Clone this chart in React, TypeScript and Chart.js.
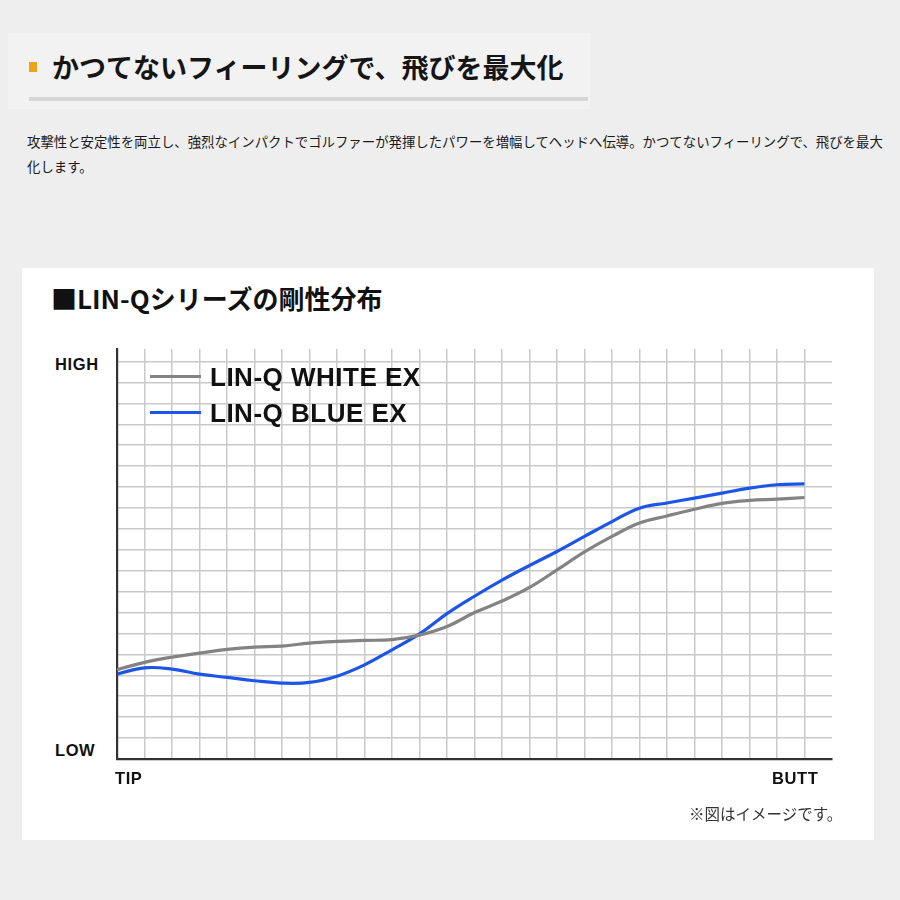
import React, { useEffect, useRef } from "react";
import { Chart, registerables } from "chart.js";

Chart.register(...registerables);

// Shaft positions from TIP (0) to BUTT (25)
const positions = [0, 1, 2, 3, 4, 5, 6, 7, 8, 9, 10, 11, 12, 13, 14, 15, 16, 17, 18, 19, 20, 21, 22, 23, 24, 25];
// Stiffness (relative units, 0 = LOW)
const whiteEx = [4.27, 4.62, 4.87, 5.06, 5.24, 5.35, 5.4, 5.54, 5.62, 5.67, 5.71, 5.92, 6.33, 7.0, 7.55, 8.2, 9.04, 9.9, 10.64, 11.28, 11.62, 11.94, 12.22, 12.36, 12.42, 12.5];
const blueEx = [4.06, 4.36, 4.3, 4.06, 3.9, 3.74, 3.63, 3.66, 3.96, 4.5, 5.22, 5.98, 6.95, 7.78, 8.55, 9.25, 9.92, 10.64, 11.35, 11.99, 12.24, 12.47, 12.71, 12.95, 13.11, 13.15];
const yGrid = [0, 1, 2, 3, 4, 5, 6, 7, 8, 9, 10, 11, 12, 13, 14, 15, 16, 17, 18, 19];
const seriesNames = ["LIN-Q WHITE EX", "LIN-Q BLUE EX"];
const seriesColors = ["#838383", "#1d55e6"];
const yLabels = ["HIGH", "LOW"];
const xLabels = ["TIP", "BUTT"];

const jp = '"Noto Sans CJK JP", "Noto Sans", sans-serif';
const latin = '"Liberation Sans", Arial, "Noto Sans CJK JP", sans-serif';

function abs(left: number, top: number, extra: React.CSSProperties = {}): React.CSSProperties {
  return { position: "absolute", left, top, margin: 0, whiteSpace: "nowrap", ...extra };
}

export default function App() {
  const ref = useRef<HTMLCanvasElement | null>(null);

  useEffect(() => {
    if (!ref.current) return;
    const gridColor = (c: any) => (c.tick && c.tick.value === 0 ? "rgba(0,0,0,0)" : "#c9c9c9");
    const chart = new Chart(ref.current, {
      type: "line",
      data: {
        datasets: [whiteEx, blueEx].map((vals, i) => ({
          label: seriesNames[i],
          data: positions.map((p, j) => ({ x: p, y: vals[j] })),
          borderColor: seriesColors[i],
          backgroundColor: seriesColors[i],
          borderWidth: 3.2,
          pointRadius: 0,
          tension: 0.4,
          fill: false,
        })),
      },
      options: {
        animation: false,
        responsive: false,
        events: [],
        layout: { padding: { left: 17, right: 18, top: 19, bottom: 21 } },
        plugins: { legend: { display: false }, tooltip: { enabled: false } },
        scales: {
          x: {
            type: "linear",
            min: 0,
            max: 26,
            afterBuildTicks: (s: any) => {
              s.ticks = positions.map((v) => ({ value: v }));
            },
            afterFit: (s: any) => {
              s.height = 0;
            },
            ticks: { display: false },
            grid: { color: gridColor, lineWidth: 1.5, drawTicks: false },
            border: { display: true, color: "#333333", width: 2.2 },
          },
          y: {
            type: "linear",
            min: 0,
            max: 19.6,
            afterBuildTicks: (s: any) => {
              s.ticks = yGrid.map((v) => ({ value: v }));
            },
            afterFit: (s: any) => {
              s.width = 0;
            },
            ticks: { display: false },
            grid: { color: gridColor, lineWidth: 1.5, drawTicks: false },
            border: { display: true, color: "#333333", width: 2.2 },
          },
        },
      },
    });
    return () => chart.destroy();
  }, []);

  return (
    <div style={{ position: "absolute", left: 0, top: 0, width: 900, height: 900, background: "#eeeeee", overflow: "hidden", color: "#111" }}>
      {/* header box */}
      <div style={abs(8, 33, { width: 582, height: 76, background: "#f2f2f2" })} />
      <div style={abs(29, 62, { width: 8, height: 10, background: "#eba41c" })} />
      <div style={abs(52, 50, { fontFamily: jp, fontWeight: 700, fontSize: 27, lineHeight: "34px", color: "#151515" })}>
        かつてないフィーリングで、飛びを最大化
      </div>
      <div style={abs(29, 97, { width: 559, height: 4, background: "#d6d6d6" })} />
      <div style={abs(27, 129, { fontFamily: jp, fontSize: 13.4, lineHeight: "25px", color: "#1a1a1a" })}>
        攻撃性と安定性を両立し、強烈なインパクトでゴルファーが発揮したパワーを増幅してヘッドへ伝導。かつてないフィーリングで、飛びを最大
        <br />
        化します。
      </div>

      {/* card */}
      <div style={abs(22, 268, { width: 852, height: 572, background: "#ffffff" })} />
      <div style={abs(51, 281, { fontFamily: jp, fontWeight: 700, fontSize: 26, lineHeight: "34px", color: "#111" })}>
        ■LIN-Qシリーズの剛性分布
      </div>

      <canvas ref={ref} width={750} height={450} style={abs(100, 330, { width: 750, height: 450, display: "block" })} />

      {/* axis labels */}
      <div style={abs(55, 353, { fontFamily: latin, fontWeight: 700, fontSize: 16.5, lineHeight: "22px", letterSpacing: 0.6 })}>{yLabels[0]}</div>
      <div style={abs(55, 739, { fontFamily: latin, fontWeight: 700, fontSize: 16.5, lineHeight: "22px", letterSpacing: 0.6 })}>{yLabels[1]}</div>
      <div style={abs(115, 767, { fontFamily: latin, fontWeight: 700, fontSize: 16.5, lineHeight: "22px", letterSpacing: 0.6 })}>{xLabels[0]}</div>
      <div style={abs(772, 767, { fontFamily: latin, fontWeight: 700, fontSize: 16.5, lineHeight: "22px", letterSpacing: 0.6 })}>{xLabels[1]}</div>

      {/* legend */}
      <div style={abs(150, 375, { width: 51, height: 3.2, background: seriesColors[0] })} />
      <div style={abs(210, 361, { fontFamily: latin, fontWeight: 700, fontSize: 26, lineHeight: "32px", letterSpacing: 0.5, color: "#111" })}>{seriesNames[0]}</div>
      <div style={abs(150, 411, { width: 51, height: 3.2, background: seriesColors[1] })} />
      <div style={abs(210, 397, { fontFamily: latin, fontWeight: 700, fontSize: 26, lineHeight: "32px", letterSpacing: 0.5, color: "#111" })}>{seriesNames[1]}</div>

      <div style={abs(689, 801, { fontFamily: jp, fontSize: 15.5, lineHeight: "24px", color: "#333" })}>※図はイメージです。</div>
    </div>
  );
}
